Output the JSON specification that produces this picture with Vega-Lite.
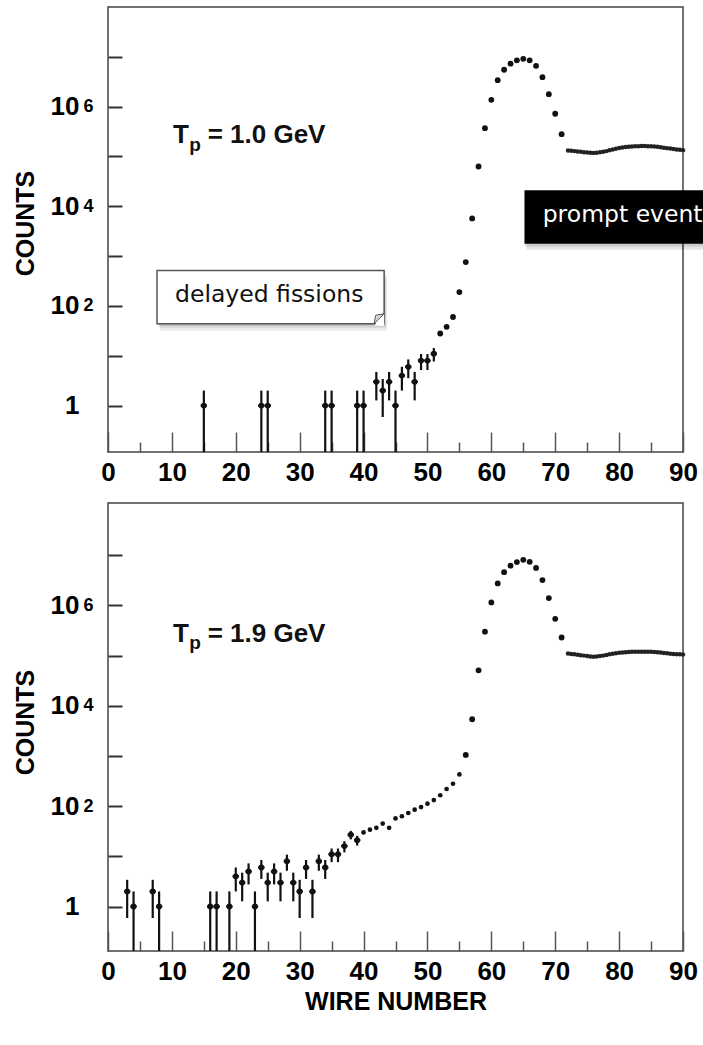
{
  "$schema": "https://vega.github.io/schema/vega-lite/v6.json",
  "padding": {"left": 12, "top": 6, "right": 0, "bottom": 0},
  "spacing": 51,
  "bounds": "flush",
  "config": {
    "view": {"stroke": "#444", "strokeWidth": 1.5},
    "axis": {"grid": false, "domain": false, "labelFont": "Liberation Sans", "labelFontWeight": "bold", "labelColor": "#000", "titleFont": "Liberation Sans", "titleFontWeight": "bold", "titleColor": "#000", "tickColor": "#333", "labelFlush": false, "labelOverlap": false}
  },
  "datasets": {
    "top_err": [
      {"w": 15, "c": 1, "lo": 0.01, "hi": 2, "wl": 14.5, "wh": 15.5},
      {"w": 24, "c": 1, "lo": 0.01, "hi": 2, "wl": 23.5, "wh": 24.5},
      {"w": 25, "c": 1, "lo": 0.01, "hi": 2, "wl": 24.5, "wh": 25.5},
      {"w": 34, "c": 1, "lo": 0.01, "hi": 2, "wl": 33.5, "wh": 34.5},
      {"w": 35, "c": 1, "lo": 0.01, "hi": 2, "wl": 34.5, "wh": 35.5},
      {"w": 39, "c": 1, "lo": 0.01, "hi": 2, "wl": 38.5, "wh": 39.5},
      {"w": 40, "c": 1, "lo": 0.01, "hi": 2, "wl": 39.5, "wh": 40.5},
      {"w": 42, "c": 3, "lo": 1.27, "hi": 4.73, "wl": 41.5, "wh": 42.5},
      {"w": 43, "c": 2, "lo": 0.59, "hi": 3.41, "wl": 42.5, "wh": 43.5},
      {"w": 44, "c": 3, "lo": 1.27, "hi": 4.73, "wl": 43.5, "wh": 44.5},
      {"w": 45, "c": 1, "lo": 0.01, "hi": 2, "wl": 44.5, "wh": 45.5},
      {"w": 46, "c": 4, "lo": 2, "hi": 6, "wl": 45.5, "wh": 46.5},
      {"w": 47, "c": 6, "lo": 3.55, "hi": 8.45, "wl": 46.5, "wh": 47.5},
      {"w": 48, "c": 3, "lo": 1.27, "hi": 4.73, "wl": 47.5, "wh": 48.5},
      {"w": 49, "c": 8, "lo": 5.17, "hi": 10.83, "wl": 48.5, "wh": 49.5},
      {"w": 50, "c": 8, "lo": 5.17, "hi": 10.83, "wl": 49.5, "wh": 50.5},
      {"w": 51, "c": 11, "lo": 7.68, "hi": 14.32, "wl": 50.5, "wh": 51.5}
    ],
    "top_peak": [
      {"w": 52, "c": 28}, {"w": 53, "c": 38}, {"w": 54, "c": 60}, {"w": 55, "c": 190},
      {"w": 56, "c": 760}, {"w": 57, "c": 5700}, {"w": 58, "c": 63000}, {"w": 59, "c": 370000},
      {"w": 60, "c": 1370000}, {"w": 61, "c": 3400000}, {"w": 62, "c": 5500000}, {"w": 63, "c": 7300000},
      {"w": 64, "c": 8500000}, {"w": 65, "c": 9100000}, {"w": 66, "c": 8500000}, {"w": 67, "c": 6600000},
      {"w": 68, "c": 3900000}, {"w": 69, "c": 1780000}, {"w": 70, "c": 720000}, {"w": 71, "c": 280000}
    ],
    "top_plat": [
      {"w": 72, "c": 132000}, {"w": 72.5, "c": 130000}, {"w": 73, "c": 128000}, {"w": 73.5, "c": 126000},
      {"w": 74, "c": 124000}, {"w": 74.5, "c": 122000}, {"w": 75, "c": 120000}, {"w": 75.5, "c": 119000},
      {"w": 76, "c": 118000}, {"w": 76.5, "c": 119000}, {"w": 77, "c": 121000}, {"w": 77.5, "c": 124000},
      {"w": 78, "c": 128000}, {"w": 78.5, "c": 133000}, {"w": 79, "c": 138000}, {"w": 79.5, "c": 143000},
      {"w": 80, "c": 148000}, {"w": 80.5, "c": 152000}, {"w": 81, "c": 155000}, {"w": 81.5, "c": 157000},
      {"w": 82, "c": 159000}, {"w": 82.5, "c": 160000}, {"w": 83, "c": 161000}, {"w": 83.5, "c": 162000},
      {"w": 84, "c": 162000}, {"w": 84.5, "c": 161000}, {"w": 85, "c": 160000}, {"w": 85.5, "c": 158000},
      {"w": 86, "c": 156000}, {"w": 86.5, "c": 153000}, {"w": 87, "c": 150000}, {"w": 87.5, "c": 147000},
      {"w": 88, "c": 144000}, {"w": 88.5, "c": 141000}, {"w": 89, "c": 138000}, {"w": 89.5, "c": 136000},
      {"w": 90, "c": 134000}
    ],
    "bot_err": [
      {"w": 3, "c": 2, "lo": 0.59, "hi": 3.41, "wl": 2.5, "wh": 3.5},
      {"w": 4, "c": 1, "lo": 0.01, "hi": 2, "wl": 3.5, "wh": 4.5},
      {"w": 7, "c": 2, "lo": 0.59, "hi": 3.41, "wl": 6.5, "wh": 7.5},
      {"w": 8, "c": 1, "lo": 0.01, "hi": 2, "wl": 7.5, "wh": 8.5},
      {"w": 16, "c": 1, "lo": 0.01, "hi": 2, "wl": 15.5, "wh": 16.5},
      {"w": 17, "c": 1, "lo": 0.01, "hi": 2, "wl": 16.5, "wh": 17.5},
      {"w": 19, "c": 1, "lo": 0.01, "hi": 2, "wl": 18.5, "wh": 19.5},
      {"w": 20, "c": 4, "lo": 2, "hi": 6, "wl": 19.5, "wh": 20.5},
      {"w": 21, "c": 3, "lo": 1.27, "hi": 4.73, "wl": 20.5, "wh": 21.5},
      {"w": 22, "c": 5, "lo": 2.76, "hi": 7.24, "wl": 21.5, "wh": 22.5},
      {"w": 23, "c": 1, "lo": 0.01, "hi": 2, "wl": 22.5, "wh": 23.5},
      {"w": 24, "c": 6, "lo": 3.55, "hi": 8.45, "wl": 23.5, "wh": 24.5},
      {"w": 25, "c": 3, "lo": 1.27, "hi": 4.73, "wl": 24.5, "wh": 25.5},
      {"w": 26, "c": 5, "lo": 2.76, "hi": 7.24, "wl": 25.5, "wh": 26.5},
      {"w": 27, "c": 3, "lo": 1.27, "hi": 4.73, "wl": 26.5, "wh": 27.5},
      {"w": 28, "c": 8, "lo": 5.17, "hi": 10.83, "wl": 27.5, "wh": 28.5},
      {"w": 29, "c": 3, "lo": 1.27, "hi": 4.73, "wl": 28.5, "wh": 29.5},
      {"w": 30, "c": 2, "lo": 0.59, "hi": 3.41, "wl": 29.5, "wh": 30.5},
      {"w": 31, "c": 6, "lo": 3.55, "hi": 8.45, "wl": 30.5, "wh": 31.5},
      {"w": 32, "c": 2, "lo": 0.59, "hi": 3.41, "wl": 31.5, "wh": 32.5},
      {"w": 33, "c": 8, "lo": 5.17, "hi": 10.83, "wl": 32.5, "wh": 33.5},
      {"w": 34, "c": 6, "lo": 3.55, "hi": 8.45, "wl": 33.5, "wh": 34.5},
      {"w": 35, "c": 11, "lo": 7.68, "hi": 14.32, "wl": 34.5, "wh": 35.5},
      {"w": 36, "c": 11, "lo": 7.68, "hi": 14.32, "wl": 35.5, "wh": 36.5},
      {"w": 37, "c": 16, "lo": 12, "hi": 20, "wl": 36.5, "wh": 37.5},
      {"w": 38, "c": 27, "lo": 21.8, "hi": 32.2, "wl": 37.5, "wh": 38.5},
      {"w": 39, "c": 21, "lo": 16.4, "hi": 25.6, "wl": 38.5, "wh": 39.5}
    ],
    "bot_small": [
      {"w": 40, "c": 30}, {"w": 41, "c": 34}, {"w": 42, "c": 37}, {"w": 43, "c": 45},
      {"w": 44, "c": 37}, {"w": 45, "c": 57}, {"w": 46, "c": 63}, {"w": 47, "c": 73},
      {"w": 48, "c": 85}, {"w": 49, "c": 96}, {"w": 50, "c": 112}, {"w": 51, "c": 132},
      {"w": 52, "c": 165}, {"w": 53, "c": 220}, {"w": 54, "c": 280}, {"w": 55, "c": 430}
    ],
    "bot_peak": [
      {"w": 56, "c": 1050}, {"w": 57, "c": 5400}, {"w": 58, "c": 51000}, {"w": 59, "c": 300000},
      {"w": 60, "c": 1150000}, {"w": 61, "c": 2750000}, {"w": 62, "c": 4600000}, {"w": 63, "c": 6200000},
      {"w": 64, "c": 7300000}, {"w": 65, "c": 8100000}, {"w": 66, "c": 7400000}, {"w": 67, "c": 5600000},
      {"w": 68, "c": 3200000}, {"w": 69, "c": 1400000}, {"w": 70, "c": 540000}, {"w": 71, "c": 230000}
    ],
    "bot_plat": [
      {"w": 72, "c": 110000}, {"w": 72.5, "c": 108000}, {"w": 73, "c": 106000}, {"w": 73.5, "c": 104000},
      {"w": 74, "c": 102000}, {"w": 74.5, "c": 100000}, {"w": 75, "c": 98000}, {"w": 75.5, "c": 96000},
      {"w": 76, "c": 95000}, {"w": 76.5, "c": 96000}, {"w": 77, "c": 98000}, {"w": 77.5, "c": 100000},
      {"w": 78, "c": 103000}, {"w": 78.5, "c": 106000}, {"w": 79, "c": 109000}, {"w": 79.5, "c": 112000},
      {"w": 80, "c": 114000}, {"w": 80.5, "c": 116000}, {"w": 81, "c": 117000}, {"w": 81.5, "c": 118000},
      {"w": 82, "c": 119000}, {"w": 82.5, "c": 119000}, {"w": 83, "c": 120000}, {"w": 83.5, "c": 120000},
      {"w": 84, "c": 120000}, {"w": 84.5, "c": 120000}, {"w": 85, "c": 119000}, {"w": 85.5, "c": 118000},
      {"w": 86, "c": 117000}, {"w": 86.5, "c": 115000}, {"w": 87, "c": 113000}, {"w": 87.5, "c": 111000},
      {"w": 88, "c": 109000}, {"w": 88.5, "c": 108000}, {"w": 89, "c": 107000}, {"w": 89.5, "c": 106000},
      {"w": 90, "c": 105000}
    ],
    "top_tp": [{"x": 10.18, "y": 185000, "t": "T"}, {"x": 15.6, "y": 185000, "t": "= 1.0 GeV"}],
    "top_tp_sub": [{"x": 12.7, "y": 130000, "t": "p"}],
    "bot_tp": [{"x": 10.18, "y": 190000, "t": "T"}, {"x": 15.6, "y": 190000, "t": "= 1.9 GeV"}],
    "bot_tp_sub": [{"x": 12.7, "y": 135000, "t": "p"}],
    "dbox": [{"x1": 7.67, "x2": 43.22, "y1": 43.9, "y2": 517, "tx": 10.49, "ty": 119, "t": "delayed fissions"}],
    "pbox": [{"x1": 65.19, "x2": 93.2, "y1": 1778, "y2": 20990, "tx": 68.04, "ty": 4834, "t": "prompt events"}]
  },
  "vconcat": [
    {
      "width": 575,
      "height": 445,
      "resolve": {"axis": {"x": "independent", "y": "independent"}},
      "layer": [
        {"data": {"name": "dbox"}, "mark": {"type": "rect", "fill": "#000", "opacity": 0.1, "xOffset": 1, "x2Offset": 1, "yOffset": 2, "y2Offset": 2},
         "encoding": {"x": {"field": "x1", "type": "quantitative", "scale": {"domain": [0, 90], "nice": false, "zero": false}, "axis": null}, "x2": {"field": "x2"}, "y": {"field": "y1", "type": "quantitative", "scale": {"type": "log", "domain": [0.117, 100000000], "nice": false}, "axis": null}, "y2": {"field": "y2"}}},
        {"data": {"name": "dbox"}, "mark": {"type": "rect", "fill": "#000", "opacity": 0.1, "xOffset": 2, "x2Offset": 2, "yOffset": 4, "y2Offset": 4},
         "encoding": {"x": {"field": "x1", "type": "quantitative", "scale": {"domain": [0, 90], "nice": false, "zero": false}, "axis": null}, "x2": {"field": "x2"}, "y": {"field": "y1", "type": "quantitative", "scale": {"type": "log", "domain": [0.117, 100000000], "nice": false}, "axis": null}, "y2": {"field": "y2"}}},
        {"data": {"name": "dbox"}, "mark": {"type": "rect", "fill": "#000", "opacity": 0.08, "xOffset": 3, "x2Offset": 3, "yOffset": 7, "y2Offset": 7},
         "encoding": {"x": {"field": "x1", "type": "quantitative", "scale": {"domain": [0, 90], "nice": false, "zero": false}, "axis": null}, "x2": {"field": "x2"}, "y": {"field": "y1", "type": "quantitative", "scale": {"type": "log", "domain": [0.117, 100000000], "nice": false}, "axis": null}, "y2": {"field": "y2"}}},
        {"data": {"name": "dbox"}, "mark": {"type": "rect", "fill": "#ffffff", "stroke": "#555", "strokeWidth": 1.5},
         "encoding": {"x": {"field": "x1", "type": "quantitative", "scale": {"domain": [0, 90], "nice": false, "zero": false}, "axis": null}, "x2": {"field": "x2"}, "y": {"field": "y1", "type": "quantitative", "scale": {"type": "log", "domain": [0.117, 100000000], "nice": false}, "axis": null}, "y2": {"field": "y2"}}},
        {"data": {"name": "dbox"}, "mark": {"type": "point", "shape": "M 0 -1 L 0 0.2 L -1 0.2 Z", "size": 400, "filled": true, "fill": "#ffffff", "opacity": 1, "strokeWidth": 0},
         "encoding": {"x": {"field": "x2", "type": "quantitative", "scale": {"domain": [0, 90], "nice": false, "zero": false}, "axis": null}, "y": {"field": "y1", "type": "quantitative", "scale": {"type": "log", "domain": [0.117, 100000000], "nice": false}, "axis": null}}},
        {"data": {"name": "dbox"}, "mark": {"type": "point", "shape": "M 0 -1 L -1 0 L -0.85 -0.85 Z", "size": 400, "filled": true, "fill": "#d8d8d8", "stroke": "#555", "strokeWidth": 1, "opacity": 1},
         "encoding": {"x": {"field": "x2", "type": "quantitative", "scale": {"domain": [0, 90], "nice": false, "zero": false}, "axis": null}, "y": {"field": "y1", "type": "quantitative", "scale": {"type": "log", "domain": [0.117, 100000000], "nice": false}, "axis": null}}},
        {"data": {"name": "dbox"}, "mark": {"type": "text", "font": "DejaVu Sans", "fontSize": 23.5, "align": "left", "baseline": "alphabetic", "color": "#111"},
         "encoding": {"x": {"field": "tx", "type": "quantitative", "scale": {"domain": [0, 90], "nice": false, "zero": false}, "axis": null}, "y": {"field": "ty", "type": "quantitative", "scale": {"type": "log", "domain": [0.117, 100000000], "nice": false}, "axis": null}, "text": {"field": "t"}}},
        {"data": {"name": "pbox"}, "mark": {"type": "rect", "fill": "#000", "opacity": 0.1, "yOffset": 3, "y2Offset": 3},
         "encoding": {"x": {"field": "x1", "type": "quantitative", "scale": {"domain": [0, 90], "nice": false, "zero": false}, "axis": null}, "x2": {"field": "x2"}, "y": {"field": "y1", "type": "quantitative", "scale": {"type": "log", "domain": [0.117, 100000000], "nice": false}, "axis": null}, "y2": {"field": "y2"}}},
        {"data": {"name": "pbox"}, "mark": {"type": "rect", "fill": "#000", "opacity": 0.1, "yOffset": 6, "y2Offset": 6, "xOffset": 2},
         "encoding": {"x": {"field": "x1", "type": "quantitative", "scale": {"domain": [0, 90], "nice": false, "zero": false}, "axis": null}, "x2": {"field": "x2"}, "y": {"field": "y1", "type": "quantitative", "scale": {"type": "log", "domain": [0.117, 100000000], "nice": false}, "axis": null}, "y2": {"field": "y2"}}},
        {"data": {"name": "pbox"}, "mark": {"type": "rect", "fill": "#000000"},
         "encoding": {"x": {"field": "x1", "type": "quantitative", "scale": {"domain": [0, 90], "nice": false, "zero": false}, "axis": null}, "x2": {"field": "x2"}, "y": {"field": "y1", "type": "quantitative", "scale": {"type": "log", "domain": [0.117, 100000000], "nice": false}, "axis": null}, "y2": {"field": "y2"}}},
        {"data": {"name": "pbox"}, "mark": {"type": "text", "font": "DejaVu Sans", "fontSize": 23.5, "align": "left", "baseline": "alphabetic", "color": "#ffffff", "limit": 168, "ellipsis": "\u200b"},
         "encoding": {"x": {"field": "tx", "type": "quantitative", "scale": {"domain": [0, 90], "nice": false, "zero": false}, "axis": null}, "y": {"field": "ty", "type": "quantitative", "scale": {"type": "log", "domain": [0.117, 100000000], "nice": false}, "axis": null}, "text": {"field": "t"}}},
        {"data": {"name": "top_err"}, "mark": {"type": "rule", "color": "#111", "strokeWidth": 2.2, "clip": true},
         "encoding": {"x": {"field": "w", "type": "quantitative", "scale": {"domain": [0, 90], "nice": false, "zero": false}, "axis": null}, "y": {"field": "lo", "type": "quantitative", "scale": {"type": "log", "domain": [0.117, 100000000], "nice": false}, "axis": null}, "y2": {"field": "hi"}}},
        {"data": {"name": "top_err"}, "mark": {"type": "rule", "color": "#111", "strokeWidth": 2.2, "clip": true},
         "encoding": {"x": {"field": "wl", "type": "quantitative", "scale": {"domain": [0, 90], "nice": false, "zero": false}, "axis": null}, "x2": {"field": "wh"}, "y": {"field": "c", "type": "quantitative", "scale": {"type": "log", "domain": [0.117, 100000000], "nice": false}, "axis": null}}},
        {"data": {"name": "top_err"}, "mark": {"type": "circle", "color": "#111", "size": 34, "opacity": 1},
         "encoding": {"x": {"field": "w", "type": "quantitative", "scale": {"domain": [0, 90], "nice": false, "zero": false}, "axis": null}, "y": {"field": "c", "type": "quantitative", "scale": {"type": "log", "domain": [0.117, 100000000], "nice": false}, "axis": null}}},
        {"data": {"name": "top_plat"}, "mark": {"type": "circle", "color": "#222", "size": 20, "opacity": 1},
         "encoding": {"x": {"field": "w", "type": "quantitative", "scale": {"domain": [0, 90], "nice": false, "zero": false}, "axis": null}, "y": {"field": "c", "type": "quantitative", "scale": {"type": "log", "domain": [0.117, 100000000], "nice": false}, "axis": null}}},
        {"data": {"name": "top_peak"}, "mark": {"type": "circle", "color": "#111", "size": 34, "opacity": 1},
         "encoding": {
           "x": {"field": "w", "type": "quantitative", "scale": {"domain": [0, 90], "nice": false, "zero": false},
                 "axis": {"orient": "bottom", "values": [0, 10, 20, 30, 40, 50, 60, 70, 80, 90], "tickSize": -20, "tickWidth": 1.5, "tickColor": "#555", "labelFontSize": 26, "labelPadding": 27, "title": null}},
           "y": {"field": "c", "type": "quantitative", "scale": {"type": "log", "domain": [0.117, 100000000], "nice": false},
                 "axis": {"orient": "left", "values": [1, 10, 100, 1000, 10000, 100000, 1000000, 10000000], "tickSize": -14, "tickWidth": 2, "labelExpr": "datum.value == 1 ? '1' : (datum.value == 100 || datum.value == 10000 || datum.value == 1000000) ? '10' : ''", "labelFontSize": 26, "labelPadding": 43, "labelBaseline": "middle", "labelDy": 2, "title": "COUNTS", "titleFontSize": 25, "titleX": -83, "titleY": 216, "titleAngle": 270, "titleBaseline": "middle", "titleAlign": "center"}}
         }},
        {"data": {"name": "top_tp"}, "mark": {"type": "text", "font": "Liberation Sans", "fontWeight": "bold", "fontSize": 26, "align": "left", "baseline": "alphabetic", "color": "#111"},
         "encoding": {"x": {"field": "x", "type": "quantitative", "scale": {"domain": [0, 90], "nice": false, "zero": false}, "axis": null}, "y": {"field": "y", "type": "quantitative", "scale": {"type": "log", "domain": [0.117, 100000000], "nice": false}, "axis": null}, "text": {"field": "t"}}},
        {"data": {"name": "top_tp_sub"}, "mark": {"type": "text", "font": "Liberation Sans", "fontWeight": "bold", "fontSize": 19, "align": "left", "baseline": "alphabetic", "color": "#111"},
         "encoding": {"x": {"field": "x", "type": "quantitative", "scale": {"domain": [0, 90], "nice": false, "zero": false}, "axis": null}, "y": {"field": "y", "type": "quantitative", "scale": {"type": "log", "domain": [0.117, 100000000], "nice": false}, "axis": null}, "text": {"field": "t"}}},
        {"data": {"name": "top_peak"}, "mark": {"type": "point", "opacity": 0},
         "encoding": {
           "x": {"field": "w", "type": "quantitative", "scale": {"domain": [0, 90], "nice": false, "zero": false},
                 "axis": {"orient": "bottom", "values": [5, 15, 25, 35, 45, 55, 65, 75, 85], "tickSize": -10, "tickWidth": 1.5, "tickColor": "#555", "labels": false, "title": null}},
           "y": {"field": "c", "type": "quantitative", "scale": {"type": "log", "domain": [0.117, 100000000], "nice": false},
                 "axis": {"orient": "left", "values": [100, 10000, 1000000], "ticks": false, "labelExpr": "datum.value == 100 ? '2' : datum.value == 10000 ? '4' : '6'", "labelFontSize": 18, "labelAlign": "left", "labelBaseline": "middle", "labelPadding": 25, "labelDy": -7, "title": null}}
         }}
      ]
    },
    {
      "width": 575,
      "height": 448,
      "resolve": {"axis": {"x": "independent", "y": "independent"}},
      "layer": [
        {"data": {"name": "bot_err"}, "mark": {"type": "rule", "color": "#111", "strokeWidth": 2.2, "clip": true},
         "encoding": {"x": {"field": "w", "type": "quantitative", "scale": {"domain": [0, 90], "nice": false, "zero": false}, "axis": null}, "y": {"field": "lo", "type": "quantitative", "scale": {"type": "log", "domain": [0.13, 110000000], "nice": false}, "axis": null}, "y2": {"field": "hi"}}},
        {"data": {"name": "bot_err"}, "mark": {"type": "rule", "color": "#111", "strokeWidth": 2.2, "clip": true},
         "encoding": {"x": {"field": "wl", "type": "quantitative", "scale": {"domain": [0, 90], "nice": false, "zero": false}, "axis": null}, "x2": {"field": "wh"}, "y": {"field": "c", "type": "quantitative", "scale": {"type": "log", "domain": [0.13, 110000000], "nice": false}, "axis": null}}},
        {"data": {"name": "bot_err"}, "mark": {"type": "circle", "color": "#111", "size": 34, "opacity": 1},
         "encoding": {"x": {"field": "w", "type": "quantitative", "scale": {"domain": [0, 90], "nice": false, "zero": false}, "axis": null}, "y": {"field": "c", "type": "quantitative", "scale": {"type": "log", "domain": [0.13, 110000000], "nice": false}, "axis": null}}},
        {"data": {"name": "bot_small"}, "mark": {"type": "circle", "color": "#111", "size": 22, "opacity": 1},
         "encoding": {"x": {"field": "w", "type": "quantitative", "scale": {"domain": [0, 90], "nice": false, "zero": false}, "axis": null}, "y": {"field": "c", "type": "quantitative", "scale": {"type": "log", "domain": [0.13, 110000000], "nice": false}, "axis": null}}},
        {"data": {"name": "bot_plat"}, "mark": {"type": "circle", "color": "#222", "size": 20, "opacity": 1},
         "encoding": {"x": {"field": "w", "type": "quantitative", "scale": {"domain": [0, 90], "nice": false, "zero": false}, "axis": null}, "y": {"field": "c", "type": "quantitative", "scale": {"type": "log", "domain": [0.13, 110000000], "nice": false}, "axis": null}}},
        {"data": {"name": "bot_peak"}, "mark": {"type": "circle", "color": "#111", "size": 34, "opacity": 1},
         "encoding": {
           "x": {"field": "w", "type": "quantitative", "scale": {"domain": [0, 90], "nice": false, "zero": false},
                 "axis": {"orient": "bottom", "values": [0, 10, 20, 30, 40, 50, 60, 70, 80, 90], "tickSize": -20, "tickWidth": 1.5, "tickColor": "#555", "labelFontSize": 26, "labelPadding": 27, "title": "WIRE NUMBER", "titleFontSize": 25, "titleY": 50, "titleBaseline": "middle"}},
           "y": {"field": "c", "type": "quantitative", "scale": {"type": "log", "domain": [0.13, 110000000], "nice": false},
                 "axis": {"orient": "left", "values": [1, 10, 100, 1000, 10000, 100000, 1000000, 10000000], "tickSize": -14, "tickWidth": 2, "labelExpr": "datum.value == 1 ? '1' : (datum.value == 100 || datum.value == 10000 || datum.value == 1000000) ? '10' : ''", "labelFontSize": 26, "labelPadding": 43, "labelBaseline": "middle", "labelDy": 2, "title": "COUNTS", "titleFontSize": 25, "titleX": -83, "titleY": 219, "titleAngle": 270, "titleBaseline": "middle", "titleAlign": "center"}}
         }},
        {"data": {"name": "bot_tp"}, "mark": {"type": "text", "font": "Liberation Sans", "fontWeight": "bold", "fontSize": 26, "align": "left", "baseline": "alphabetic", "color": "#111"},
         "encoding": {"x": {"field": "x", "type": "quantitative", "scale": {"domain": [0, 90], "nice": false, "zero": false}, "axis": null}, "y": {"field": "y", "type": "quantitative", "scale": {"type": "log", "domain": [0.13, 110000000], "nice": false}, "axis": null}, "text": {"field": "t"}}},
        {"data": {"name": "bot_tp_sub"}, "mark": {"type": "text", "font": "Liberation Sans", "fontWeight": "bold", "fontSize": 19, "align": "left", "baseline": "alphabetic", "color": "#111"},
         "encoding": {"x": {"field": "x", "type": "quantitative", "scale": {"domain": [0, 90], "nice": false, "zero": false}, "axis": null}, "y": {"field": "y", "type": "quantitative", "scale": {"type": "log", "domain": [0.13, 110000000], "nice": false}, "axis": null}, "text": {"field": "t"}}},
        {"data": {"name": "bot_peak"}, "mark": {"type": "point", "opacity": 0},
         "encoding": {
           "x": {"field": "w", "type": "quantitative", "scale": {"domain": [0, 90], "nice": false, "zero": false},
                 "axis": {"orient": "bottom", "values": [5, 15, 25, 35, 45, 55, 65, 75, 85], "tickSize": -10, "tickWidth": 1.5, "tickColor": "#555", "labels": false, "title": null}},
           "y": {"field": "c", "type": "quantitative", "scale": {"type": "log", "domain": [0.13, 110000000], "nice": false},
                 "axis": {"orient": "left", "values": [100, 10000, 1000000], "ticks": false, "labelExpr": "datum.value == 100 ? '2' : datum.value == 10000 ? '4' : '6'", "labelFontSize": 18, "labelAlign": "left", "labelBaseline": "middle", "labelPadding": 25, "labelDy": -7, "title": null}}
         }}
      ]
    }
  ]
}
